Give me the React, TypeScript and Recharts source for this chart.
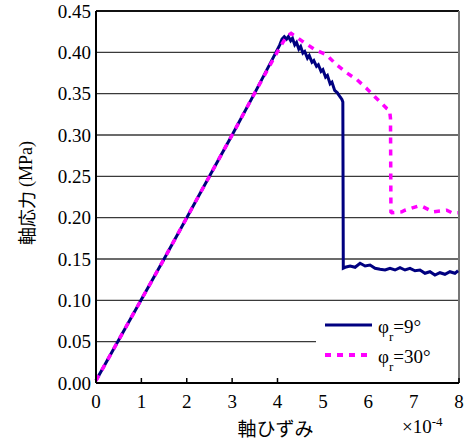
import { LineChart, Line, XAxis, YAxis, CartesianGrid, ReferenceLine, Legend, Label } from "recharts";

const SERIF = "'Liberation Serif', 'DejaVu Serif', 'Times New Roman', serif";
const CJK = "'Noto Sans CJK JP', sans-serif";
const NAVY = "#000080";
const MAGENTA = "#ff00ff";
const DASH = "6 6";

const SERIES_NAMES = ["φr=9°", "φr=30°"];

// strain (x10^-4) / stress (MPa), phi_r = 9 deg
const STRAIN_9 = [
  0, 0.5, 1.0, 1.5, 2.0, 2.5, 3.0, 3.5, 3.9, 4.05, 4.1, 4.15, 4.2, 4.24, 4.29, 4.33, 4.38, 4.42,
  4.47, 4.51, 4.56, 4.6, 4.66, 4.7, 4.76, 4.8, 4.86, 4.9, 4.96, 5.0, 5.06, 5.1, 5.16, 5.2, 5.26,
  5.32, 5.38, 5.42, 5.44, 5.45, 5.49, 5.6, 5.71, 5.82, 5.93, 6.04, 6.15, 6.26, 6.37, 6.48, 6.59,
  6.7, 6.81, 6.92, 7.03, 7.14, 7.25, 7.36, 7.47, 7.58, 7.69, 7.8, 7.91, 7.98,
];
const STRESS_9 = [
  0.003, 0.052, 0.101, 0.15, 0.2, 0.25, 0.3, 0.351, 0.393, 0.409, 0.416, 0.419, 0.416, 0.419, 0.414,
  0.417, 0.409, 0.412, 0.404, 0.407, 0.399, 0.401, 0.393, 0.396, 0.388, 0.39, 0.383, 0.385, 0.377,
  0.379, 0.37, 0.372, 0.362, 0.364, 0.354, 0.351, 0.346, 0.343, 0.34, 0.139, 0.14, 0.1415, 0.14,
  0.1448, 0.1415, 0.1427, 0.1387, 0.1375, 0.1367, 0.1387, 0.1367, 0.1395, 0.1367, 0.1387, 0.1358,
  0.1367, 0.1327, 0.1346, 0.1306, 0.1334, 0.1315, 0.1346, 0.1327, 0.1358,
];

// phi_r = 30 deg
const STRAIN_30 = [
  0, 0.5, 1.0, 1.5, 2.0, 2.5, 3.0, 3.5, 4.0, 4.13, 4.22, 4.3, 4.35, 4.56, 4.83, 5.08, 5.3, 5.53,
  5.75, 5.97, 6.15, 6.41, 6.47, 6.49, 6.5, 6.52, 6.74, 6.81, 7.1, 7.21, 7.36, 7.43, 7.73, 7.84, 7.98,
];
const STRESS_30 = [
  0.003, 0.052, 0.101, 0.15, 0.2, 0.25, 0.3, 0.351, 0.401, 0.413, 0.42, 0.423, 0.421, 0.413, 0.403,
  0.397, 0.385, 0.375, 0.367, 0.356, 0.346, 0.332, 0.33, 0.32, 0.207, 0.206, 0.207, 0.209, 0.214,
  0.213, 0.209, 0.207, 0.209, 0.206, 0.206,
];

const X_TICKS = [0, 1, 2, 3, 4, 5, 6, 7, 8];
const Y_TICKS = [0, 0.05, 0.1, 0.15, 0.2, 0.25, 0.3, 0.35, 0.4, 0.45];

const data9 = STRAIN_9.map((x, i) => ({ x, y: STRESS_9[i] }));
const data30 = STRAIN_30.map((x, i) => ({ x, y: STRESS_30[i] }));

function XTick({ x, y, payload }: any) {
  return (
    <g>
      <line x1={x} y1={y} x2={x} y2={y - 5} stroke="#000" strokeWidth={1.5} />
      <text x={x} y={y + 25} textAnchor="middle" fill="#000" fontFamily={SERIF} fontSize={19}>
        {payload.value}
      </text>
    </g>
  );
}

function YTick({ x, y, payload }: any) {
  return (
    <text x={x - 5} y={y + 6.5} textAnchor="end" fill="#000" fontFamily={SERIF} fontSize={19}>
      {Number(payload.value).toFixed(2)}
    </text>
  );
}

function LegendBox({ payload }: any) {
  const items = [...(payload || [])].sort(
    (a: any, b: any) => SERIES_NAMES.indexOf(a.value) - SERIES_NAMES.indexOf(b.value)
  );
  return (
    <svg width={142} height={79} style={{ display: "block", background: "#fff" }}>
      {items.map((p: any, i: number) => {
        const ly = 22 + i * 30;
        const name = String(p.value);
        const dashed = name === SERIES_NAMES[1];
        return (
          <g key={name}>
            <line x1={9} y1={ly} x2={56} y2={ly} stroke={p.color} strokeWidth={dashed ? 4 : 3} strokeDasharray={dashed ? DASH : undefined} />
            <text x={62} y={ly + 8} fill="#000" fontFamily={SERIF} fontSize={19}>
              <tspan>{name[0]}</tspan>
              <tspan baselineShift="sub" fontSize={13}>{name[1]}</tspan>
              <tspan>{name.slice(2)}</tspan>
            </text>
          </g>
        );
      })}
    </svg>
  );
}

export default function App() {
  return (
    <div style={{ position: "absolute", left: 0, top: 0, fontFamily: SERIF }}>
      <LineChart width={471} height={441} margin={{ top: 11, right: 12, bottom: 0, left: 0 }}>
        <CartesianGrid vertical={false} stroke="#3a3a3a" strokeWidth={1.3} />
        <XAxis
          type="number"
          dataKey="x"
          domain={[0, 8]}
          ticks={X_TICKS}
          height={58}
          tickSize={0}
          tickMargin={0}
          tick={<XTick />}
          axisLine={{ stroke: "#000", strokeWidth: 2 }}
          tickLine={false}
        >
          <Label
            content={({ viewBox }: any) => (
              <text x={viewBox.x + viewBox.width / 2 - 2} y={436} textAnchor="middle" fill="#000" fontFamily={CJK} fontSize={19}>
                軸ひずみ
              </text>
            )}
          />
          <Label
            content={({ viewBox }: any) => (
              <text x={viewBox.x + viewBox.width - 57} y={433} fill="#000" fontFamily={SERIF} fontSize={19}>
                ×10<tspan dy={-7} fontSize={13}>-4</tspan>
              </text>
            )}
          />
        </XAxis>
        <YAxis
          type="number"
          domain={[0, 0.45]}
          ticks={Y_TICKS}
          width={96}
          tickSize={0}
          tickMargin={0}
          tick={<YTick />}
          axisLine={{ stroke: "#000", strokeWidth: 2 }}
          tickLine={false}
        >
          <Label
            content={({ viewBox }: any) => {
              const cx = 26;
              const cy = viewBox.y + viewBox.height / 2 - 4;
              return (
                <text x={cx} y={cy} transform={`rotate(-90, ${cx}, ${cy})`} textAnchor="middle" dominantBaseline="central" fill="#000" fontSize={18}>
                  <tspan fontFamily={CJK}>軸応力 </tspan>
                  <tspan fontFamily={SERIF}>(MPa)</tspan>
                </text>
              );
            }}
          />
        </YAxis>
        <ReferenceLine y={0.45} stroke="#111" strokeWidth={2} />
        <ReferenceLine x={8} stroke="#777" strokeWidth={2} />
        <Legend
          layout="vertical"
          align="center"
          verticalAlign="middle"
          content={<LegendBox />}
          wrapperStyle={{ position: "absolute", left: 316, top: 303, width: 142, height: 79 }}
        />
        <Line data={data9} dataKey="y" name={SERIES_NAMES[0]} stroke={NAVY} strokeWidth={3} dot={false} type="linear" isAnimationActive={false} />
        <Line data={data30} dataKey="y" name={SERIES_NAMES[1]} stroke={MAGENTA} strokeWidth={3.5} strokeDasharray={DASH} dot={false} type="linear" isAnimationActive={false} />
      </LineChart>
    </div>
  );
}
